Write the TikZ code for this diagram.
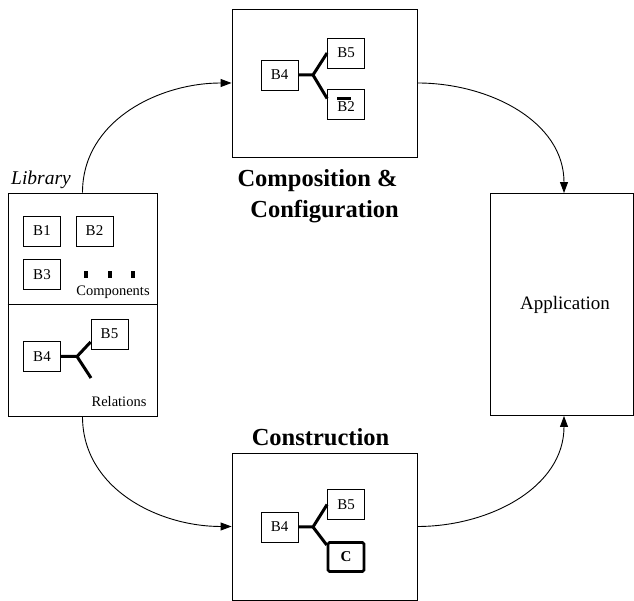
\documentclass[tikz,border=0pt]{standalone}
\usepackage{fontspec}
\setmainfont{Liberation Serif}
\usetikzlibrary{arrows.meta}

\begin{document}
\begin{tikzpicture}[x=1pt,y=1pt,
    frame/.style={draw, line width=0.9pt, inner sep=0pt},
    blk/.style={draw, line width=0.8pt, minimum width=37pt, minimum height=30pt, inner sep=0pt, font=\fontsize{15}{17}\selectfont},
    rel/.style={line width=3pt},
    conn/.style={line width=0.9pt, -{Triangle[width=8pt,length=11pt]}},
    lbl/.style={anchor=base, font=\fontsize{14.5}{16}\selectfont},
    title/.style={anchor=base, font=\bfseries\fontsize{24.5}{30}\selectfont}]
    \useasboundingbox (0,0) rectangle (634,601);

    % Outer boxes
    \node[frame, minimum width=149pt, minimum height=223pt] (lib) at (82.5,296.5) {};
    \node[frame, minimum width=185pt, minimum height=148pt] (comp) at (324.5,518) {};
    \node[frame, minimum width=185pt, minimum height=147pt] (cons) at (324.5,74.5) {};
    \node[frame, minimum width=143pt, minimum height=222pt] (app) at (561.5,296.5) {};
    \draw[line width=0.9pt] (lib.west) -- (lib.east);      % Components / Relations

    % Titles
    \node[anchor=base, font=\itshape\fontsize{19.5}{22}\selectfont] (libname) at (41,416) {Library};
    \node[title] (comptitle) at (317.5,414.3) {Composition \&};
    \node[title] (conftitle) at (324.5,383.5) {Configuration};
    \node[title] (constitle) at (320.5,155) {Construction};
    \node[anchor=base, font=\fontsize{19}{22}\selectfont] (appname) at (565,291) {Application};

    % Library: components
    \node[blk] (b1) at (42,370) {B1};
    \node[blk] (b2) at (94.5,370) {B2};
    \node[blk] (b3) at (42,326.5) {B3};
    \foreach \x in {86,109.5,133}
        \fill (\x-2,322.5) rectangle (\x+2,329.5);
    \node[lbl] (complbl) at (113,305) {Components};

    % Library: relations
    \node[blk] (lb4) at (42,244.5) {B4};
    \node[blk] (lb5) at (109.5,267) {B5};
    \coordinate (lj) at (77,244.5);
    \coordinate (lfree) at (91,223);
    \draw[rel] (lb4.east) -- (lj) -- ([yshift=-8pt]lb5.west);
    \draw[rel] (lj) -- (lfree);
    \node[lbl] (rellbl) at (119,194.3) {Relations};

    % Composition & configuration
    \node[blk] (cb4) at (279.5,526) {B4};
    \node[blk] (cb5) at (346,548) {B5};
    \node[blk] (cb2) at (346,496.5) {\rlap{\rule[11.5pt]{14pt}{2.5pt}}B2};
    \coordinate (cj) at (313,526);
    \draw[rel] (cb4.east) -- (cj) -- (cb5.west);
    \draw[rel] (cj) -- ([yshift=6pt]cb2.west);

    % Construction
    \node[blk] (sb4) at (279.5,74) {B4};
    \node[blk] (sb5) at (346,96.5) {B5};
    \node[blk, line width=2.6pt, rounded corners=1.5pt, minimum width=36pt, minimum height=29pt,
          font=\bfseries\fontsize{15}{17}\selectfont] (sc) at (346,44) {C};
    \coordinate (sj) at (313,74);
    \draw[rel] (sb4.east) -- (sj) -- (sb5.west);
    \draw[rel] (sj) -- ([yshift=12pt]sc.west);

    % Connectors
    \draw[conn] (lib.north) to[out=90,in=180] (comp.west);
    \draw[conn] (comp.east) to[out=0,in=90] ([xshift=2.5pt]app.north);
    \draw[conn] (lib.south) to[out=-90,in=180] (cons.west);
    \draw[conn] (cons.east) to[out=0,in=-90] ([xshift=2.5pt]app.south);
\end{tikzpicture}
\end{document}
